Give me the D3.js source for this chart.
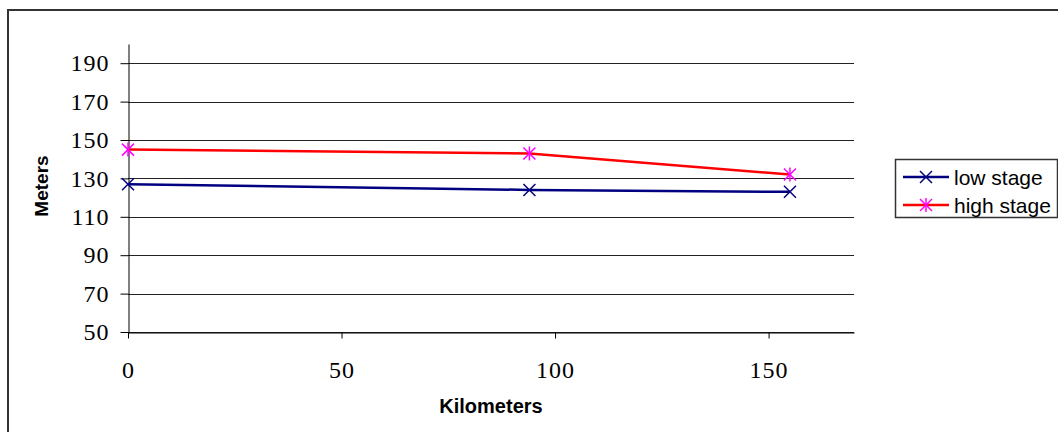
<!DOCTYPE html>
<html><head><meta charset="utf-8">
<script src="https://cdn.jsdelivr.net/npm/d3@7/dist/d3.min.js"></script>
<style>body{margin:0;background:#fff}svg{display:block}</style>
</head><body>
<script>
const kilometers = [0, 94, 155];
const lowStage = [127, 124, 123];
const highStage = [145, 143, 132];
const seriesNames = ["low stage", "high stage"];
const yTicks = [50, 70, 90, 110, 130, 150, 170, 190];
const xTicks = [0, 50, 100, 150];

const W = 1058, H = 432;
const svg = d3.select("body").append("svg").attr("width", W).attr("height", H);

// outer chart frame
svg.append("rect").attr("x", 8).attr("y", 10).attr("width", 1060).attr("height", 440)
  .attr("fill", "#fff").attr("stroke", "#333").attr("stroke-width", 2);

const L = 128, R = 854, T = 44, B = 332;
const x = d3.scaleLinear().domain([0, 170]).range([L, R]);
const y = d3.scaleLinear().domain([50, 200]).range([B, T]);

// gridlines
svg.append("g").selectAll("line").data(yTicks).join("line")
  .attr("x1", L).attr("x2", R).attr("y1", d => Math.round(y(d)) + 0.5).attr("y2", d => Math.round(y(d)) + 0.5)
  .attr("stroke", "#222").attr("stroke-width", 1);

const serif = "Liberation Serif, Times New Roman, serif";
const sans = "Liberation Sans, Arial, sans-serif";

// y axis
const yAxis = svg.append("g").attr("transform", `translate(${L + 0.5},0)`)
  .call(d3.axisLeft(y).tickValues(yTicks).tickSize(8).tickPadding(11).tickSizeOuter(0));
yAxis.attr("font-size", null).attr("font-family", null);
yAxis.select(".domain").attr("stroke", "#000");
yAxis.selectAll(".tick line").attr("stroke", "#000");
yAxis.selectAll("text").style("font-family", serif).style("font-size", "24px")
  .style("letter-spacing", "1px").attr("fill", "#000");

// x axis
const xAxis = svg.append("g").attr("transform", `translate(0,${Math.round(B) + 0.5})`)
  .call(d3.axisBottom(x).tickValues(xTicks).tickSize(6).tickPadding(22).tickSizeOuter(0));
xAxis.attr("font-size", null).attr("font-family", null);
xAxis.select(".domain").attr("stroke", "#000");
xAxis.selectAll(".tick line").attr("stroke", "#000");
xAxis.selectAll("text").style("font-family", serif).style("font-size", "24px")
  .style("letter-spacing", "1px").attr("fill", "#000");

// axis titles
svg.append("text").attr("x", (L + R) / 2).attr("y", 413).attr("text-anchor", "middle")
  .style("font-family", sans).style("font-weight", "bold")
  .style("font-size", "20px").text("Kilometers");
svg.append("text").attr("transform", "translate(48,186) rotate(-90)").attr("text-anchor", "middle")
  .style("font-family", sans).style("font-weight", "bold")
  .style("font-size", "19px").text("Meters");

const line = d3.line().x(d => x(d[0])).y(d => y(d[1]));
const series = [
  { name: seriesNames[0], vals: lowStage, color: "#000080", mcolor: "#000080", star: false },
  { name: seriesNames[1], vals: highStage, color: "#FF0000", mcolor: "#FF00FF", star: true }
];

function marker(g, cx, cy, s) {
  const r = 6;
  g.append("line").attr("x1", cx - r).attr("y1", cy - r).attr("x2", cx + r).attr("y2", cy + r)
    .attr("stroke", s.mcolor).attr("stroke-width", 1.5);
  g.append("line").attr("x1", cx - r).attr("y1", cy + r).attr("x2", cx + r).attr("y2", cy - r)
    .attr("stroke", s.mcolor).attr("stroke-width", 1.5);
  if (s.star) {
    g.append("line").attr("x1", cx).attr("y1", cy - r - 1).attr("x2", cx).attr("y2", cy + r + 1)
      .attr("stroke", s.mcolor).attr("stroke-width", 1.5);
  }
}

series.forEach(s => {
  const pts = kilometers.map((k, i) => [k, s.vals[i]]);
  svg.append("path").attr("d", line(pts)).attr("fill", "none")
    .attr("stroke", s.color).attr("stroke-width", 2.5);
  const g = svg.append("g");
  pts.forEach(p => marker(g, x(p[0]), y(p[1]), s));
});

// legend
svg.append("rect").attr("x", 895.5).attr("y", 159.5).attr("width", 162).attr("height", 58)
  .attr("fill", "#fff").attr("stroke", "#333").attr("stroke-width", 1.5);
series.forEach((s, i) => {
  const ly = 177 + i * 28;
  svg.append("line").attr("x1", 903).attr("x2", 949).attr("y1", ly).attr("y2", ly)
    .attr("stroke", s.color).attr("stroke-width", 2.5);
  marker(svg.append("g"), 926, ly, s);
  svg.append("text").attr("x", 954).attr("y", ly + 7.5)
    .style("font-family", sans).style("font-size", "21px")
    .text(s.name);
});
</script>
</body></html>
